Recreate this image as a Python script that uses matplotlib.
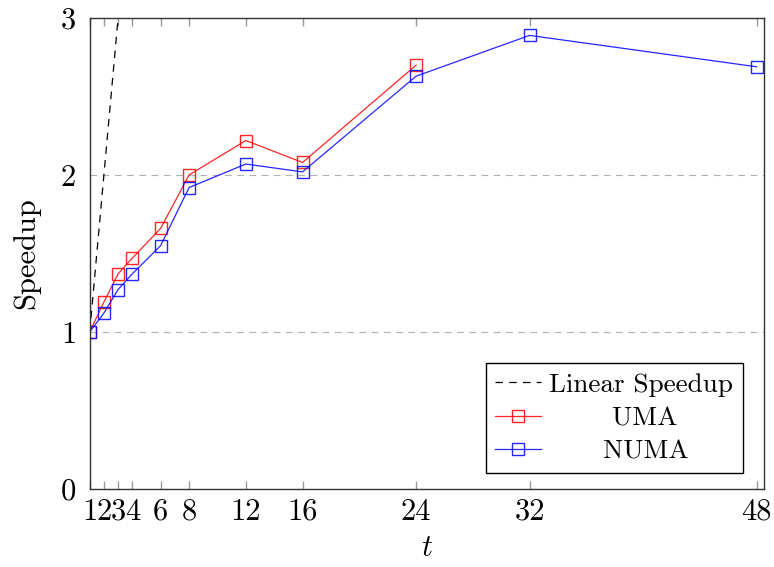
import matplotlib
matplotlib.use("Agg")
import matplotlib.pyplot as plt

plt.rcParams.update(
    {
        "font.family": "serif",
        "font.serif": ["cmr10"],
        "mathtext.fontset": "cm",
        "axes.formatter.use_mathtext": True,
        "font.size": 22,
    }
)

threads = [1, 2, 3, 4, 6, 8, 12, 16, 24, 32, 48]
uma_t = [1, 2, 3, 4, 6, 8, 12, 16, 24]
uma = [1.0, 1.19, 1.37, 1.47, 1.66, 2.0, 2.22, 2.08, 2.70]
numa = [1.0, 1.12, 1.27, 1.37, 1.55, 1.92, 2.07, 2.02, 2.63, 2.89, 2.69]
linear_t = [1, 48]
xtick_labels = ["1", "2", "3", "4", "6", "8", "12", "16", "24", "32", "48"]
yticks = [0, 1, 2, 3]

fig = plt.figure(figsize=(7.74, 5.67), dpi=100)
ax = fig.add_axes([0.1159, 0.138, 0.8708, 0.830])

ax.plot(linear_t, linear_t, color="black", lw=0.9, ls=(0, (6, 5)), label="Linear Speedup")
ax.plot(uma_t, uma, color="red", lw=0.9, marker="s", ms=9, mfc="none", mew=1.0,
        alpha=0.85, label="       UMA")
ax.plot(threads, numa, color="blue", lw=0.9, marker="s", ms=9, mfc="none", mew=1.0,
        alpha=0.85, label="      NUMA")

ax.set_xlim(1, 48.5)
ax.set_ylim(0, 3)
ax.set_xticks(threads)
ax.set_xticklabels(xtick_labels)
ax.set_yticks(yticks)
ax.grid(axis="y", color="#b0b0b0", ls=(0, (6, 5)), lw=0.8)
ax.tick_params(axis="x", direction="in", length=6, color="#999999", top=True, width=1, pad=7)
ax.tick_params(axis="y", direction="in", length=0, pad=10)
for s in ax.spines.values():
    s.set_color("#333333")
    s.set_linewidth(1.0)

ax.set_xlabel(r"$t$", fontsize=22, labelpad=6)
ax.set_ylabel("Speedup", fontsize=22, labelpad=14)

leg = ax.legend(loc="lower right", fontsize=19.5, fancybox=False, framealpha=1,
                edgecolor="black", borderpad=0.35, handlelength=1.7, handletextpad=0.3,
                labelspacing=0.35, borderaxespad=0, bbox_to_anchor=(0.969, 0.033))
leg.get_frame().set_linewidth(1.0)

fig.savefig("out.png", dpi=100, facecolor="white")
plt.close(fig)
